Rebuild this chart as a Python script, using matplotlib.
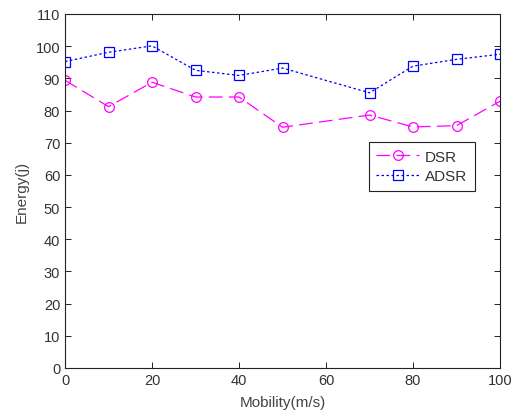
import matplotlib
matplotlib.use("Agg")
import matplotlib.pyplot as plt

plt.rcParams['font.family'] = ['Liberation Sans', 'DejaVu Sans']

mobility = [0, 10, 20, 30, 40, 50, 70, 80, 90, 100]
dsr = [89.4, 81.2, 88.8, 84.2, 84.2, 74.8, 78.6, 74.9, 75.3, 82.9]
adsr = [95.2, 98.1, 100.1, 92.5, 90.9, 93.2, 85.5, 93.8, 95.9, 97.5]

xticks = [0, 20, 40, 60, 80, 100]
yticks = list(range(0, 111, 10))

fig = plt.figure(figsize=(5.14, 4.14), dpi=100)
ax = fig.add_axes([0.1265, 0.1087, 0.8463, 0.8551])

ax.plot(mobility, dsr, color='#ff00ff', linestyle=(0, (11, 5)), linewidth=0.9,
        marker='o', markersize=7, markerfacecolor='none', markeredgewidth=0.9,
        label='DSR')
ax.plot(mobility, adsr, color='#0000ff', linestyle=(0, (2, 2)), linewidth=0.9,
        marker='s', markersize=7.5, markerfacecolor='none', markeredgewidth=0.9,
        label='ADSR')

ax.set_xlim(0, 100)
ax.set_ylim(0, 110)
ax.set_xticks(xticks)
ax.set_yticks(yticks)
ax.tick_params(direction='in', top=True, right=True, labelsize=10.5, length=4,
               width=0.7, colors='#222222', labelcolor='#333333')
for s in ax.spines.values():
    s.set_linewidth(0.8)
    s.set_color('#222222')

ax.set_xlabel('Mobility(m/s)', fontsize=11, color='#444444', labelpad=6)
ax.set_ylabel('Energy(j)', fontsize=11, color='#444444', labelpad=5)

leg = ax.legend(loc='upper right', bbox_to_anchor=(0.9425, 0.638), fontsize=11,
                fancybox=False, framealpha=1, edgecolor='#222222',
                handlelength=2.8, borderpad=0.5, labelspacing=0.35,
                handletextpad=0.4, borderaxespad=0)
leg.get_frame().set_linewidth(0.8)
for t in leg.get_texts():
    t.set_color('#333333')

fig.savefig('out.png', dpi=100)
